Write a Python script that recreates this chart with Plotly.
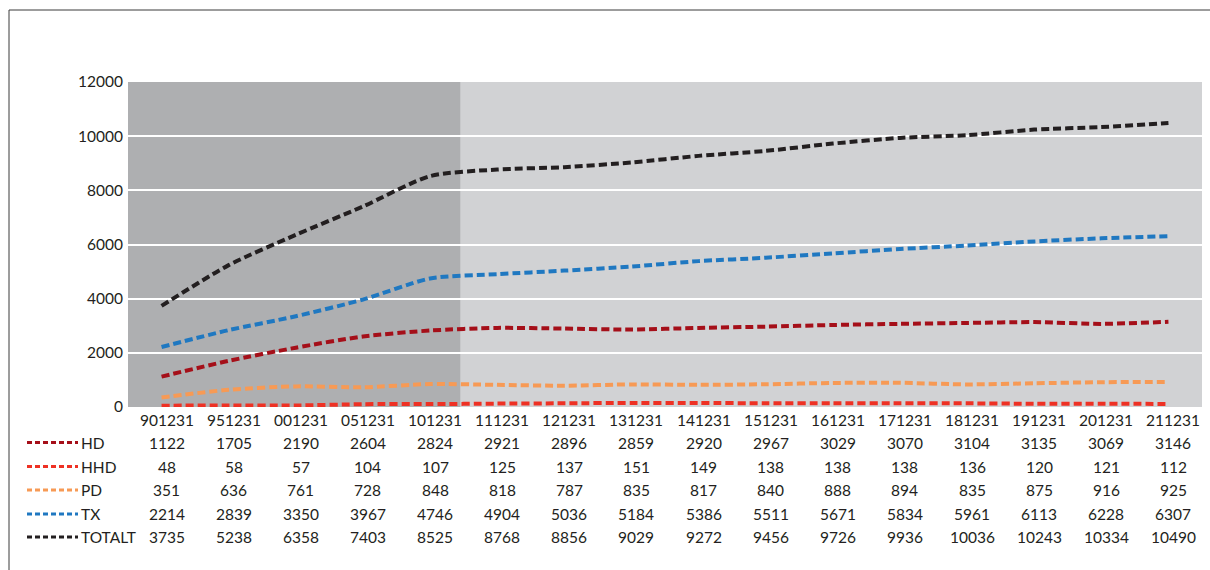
import plotly.graph_objects as go

# Reporting dates (YYMMDD) and series values
dates = ["901231", "951231", "001231", "051231", "101231", "111231", "121231", "131231",
         "141231", "151231", "161231", "171231", "181231", "191231", "201231", "211231"]
hd = [1122, 1705, 2190, 2604, 2824, 2921, 2896, 2859, 2920, 2967, 3029, 3070, 3104, 3135, 3069, 3146]
hhd = [48, 58, 57, 104, 107, 125, 137, 151, 149, 138, 138, 138, 136, 120, 121, 112]
pd_ = [351, 636, 761, 728, 848, 818, 787, 835, 817, 840, 888, 894, 835, 875, 916, 925]
tx = [2214, 2839, 3350, 3967, 4746, 4904, 5036, 5184, 5386, 5511, 5671, 5834, 5961, 6113, 6228, 6307]
totalt = [3735, 5238, 6358, 7403, 8525, 8768, 8856, 9029, 9272, 9456, 9726, 9936, 10036, 10243, 10334, 10490]

series_names = ["HD", "HHD", "PD", "TX", "TOTALT"]
series_values = [hd, hhd, pd_, tx, totalt]
series_colors = ["#A50F19", "#EE3124", "#F79A55", "#1F78C1", "#231F20"]

W, H = 1210, 570
L, R, T, B = 128, 8, 82, 163
PW, PH = W - L - R, H - T - B
FONT = "Lato"
TXT = "#231F20"


def px(x):
    return (x - L) / PW


def py(y):
    return (H - B - y) / PH


x_idx = list(range(len(dates)))

fig = go.Figure()
for name, vals, col in zip(series_names, series_values, series_colors):
    fig.add_trace(go.Scatter(
        x=x_idx, y=vals, name=name, mode="lines",
        line=dict(color=col, width=4, dash="8px,4px", shape="spline", smoothing=0.7),
        showlegend=False, hoverinfo="x+y+name",
    ))

shapes = [
    # darker band behind the first five dates
    dict(type="rect", xref="x", yref="paper", x0=-0.5, x1=4.45, y0=0, y1=1,
         fillcolor="#AEAFB1", line=dict(width=0), layer="below"),
    # outer frame (top and left edges)
    dict(type="line", xref="paper", yref="paper", x0=px(9), x1=px(W + 5), y0=py(10), y1=py(10),
         line=dict(color="#3A3A3A", width=1)),
    dict(type="line", xref="paper", yref="paper", x0=px(9), x1=px(9), y0=py(10), y1=py(H + 5),
         line=dict(color="#3A3A3A", width=1)),
]

annotations = []
row_y = [442.5, 466.5, 490, 514, 537]
label_y = 420

# date header row
for i, d in enumerate(dates):
    annotations.append(dict(x=i, y=py(label_y), xref="x", yref="paper", text=d,
                            showarrow=False, xanchor="center", yanchor="middle", xshift=5,
                            font=dict(family=FONT, size=15.5, color=TXT)))

# data table rows with legend keys
for name, vals, col, ry in zip(series_names, series_values, series_colors, row_y):
    shapes.append(dict(type="line", xref="paper", yref="paper", x0=px(27), x1=px(78),
                       y0=py(ry), y1=py(ry), line=dict(color=col, width=3, dash="5px,3px")))
    annotations.append(dict(x=px(79), y=py(ry), xref="paper", yref="paper", text=name,
                            showarrow=False, xanchor="left", yanchor="middle",
                            font=dict(family=FONT, size=15.5, color=TXT)))
    for i, v in enumerate(vals):
        annotations.append(dict(x=i, y=py(ry), xref="x", yref="paper", text=str(v),
                                showarrow=False, xanchor="center", yanchor="middle", xshift=5,
                                font=dict(family=FONT, size=15.5, color=TXT)))

fig.update_layout(
    width=W, height=H,
    margin=dict(l=L, r=R, t=T, b=B, pad=0),
    paper_bgcolor="white",
    plot_bgcolor="#D1D2D4",
    shapes=shapes,
    annotations=annotations,
    xaxis=dict(range=[-0.5, len(dates) - 0.5], showgrid=False, zeroline=False,
               showticklabels=False, showline=False, fixedrange=True),
    yaxis=dict(range=[0, 12000], dtick=2000, tickformat="d", showgrid=True, gridcolor="white",
               gridwidth=1.5, zeroline=False, showline=False, ticks="", ticklabelstandoff=4,
               tickfont=dict(family=FONT, size=15.5, color=TXT), fixedrange=True),
    font=dict(family=FONT, size=15.5, color=TXT),
)

fig.write_html("out.html")
